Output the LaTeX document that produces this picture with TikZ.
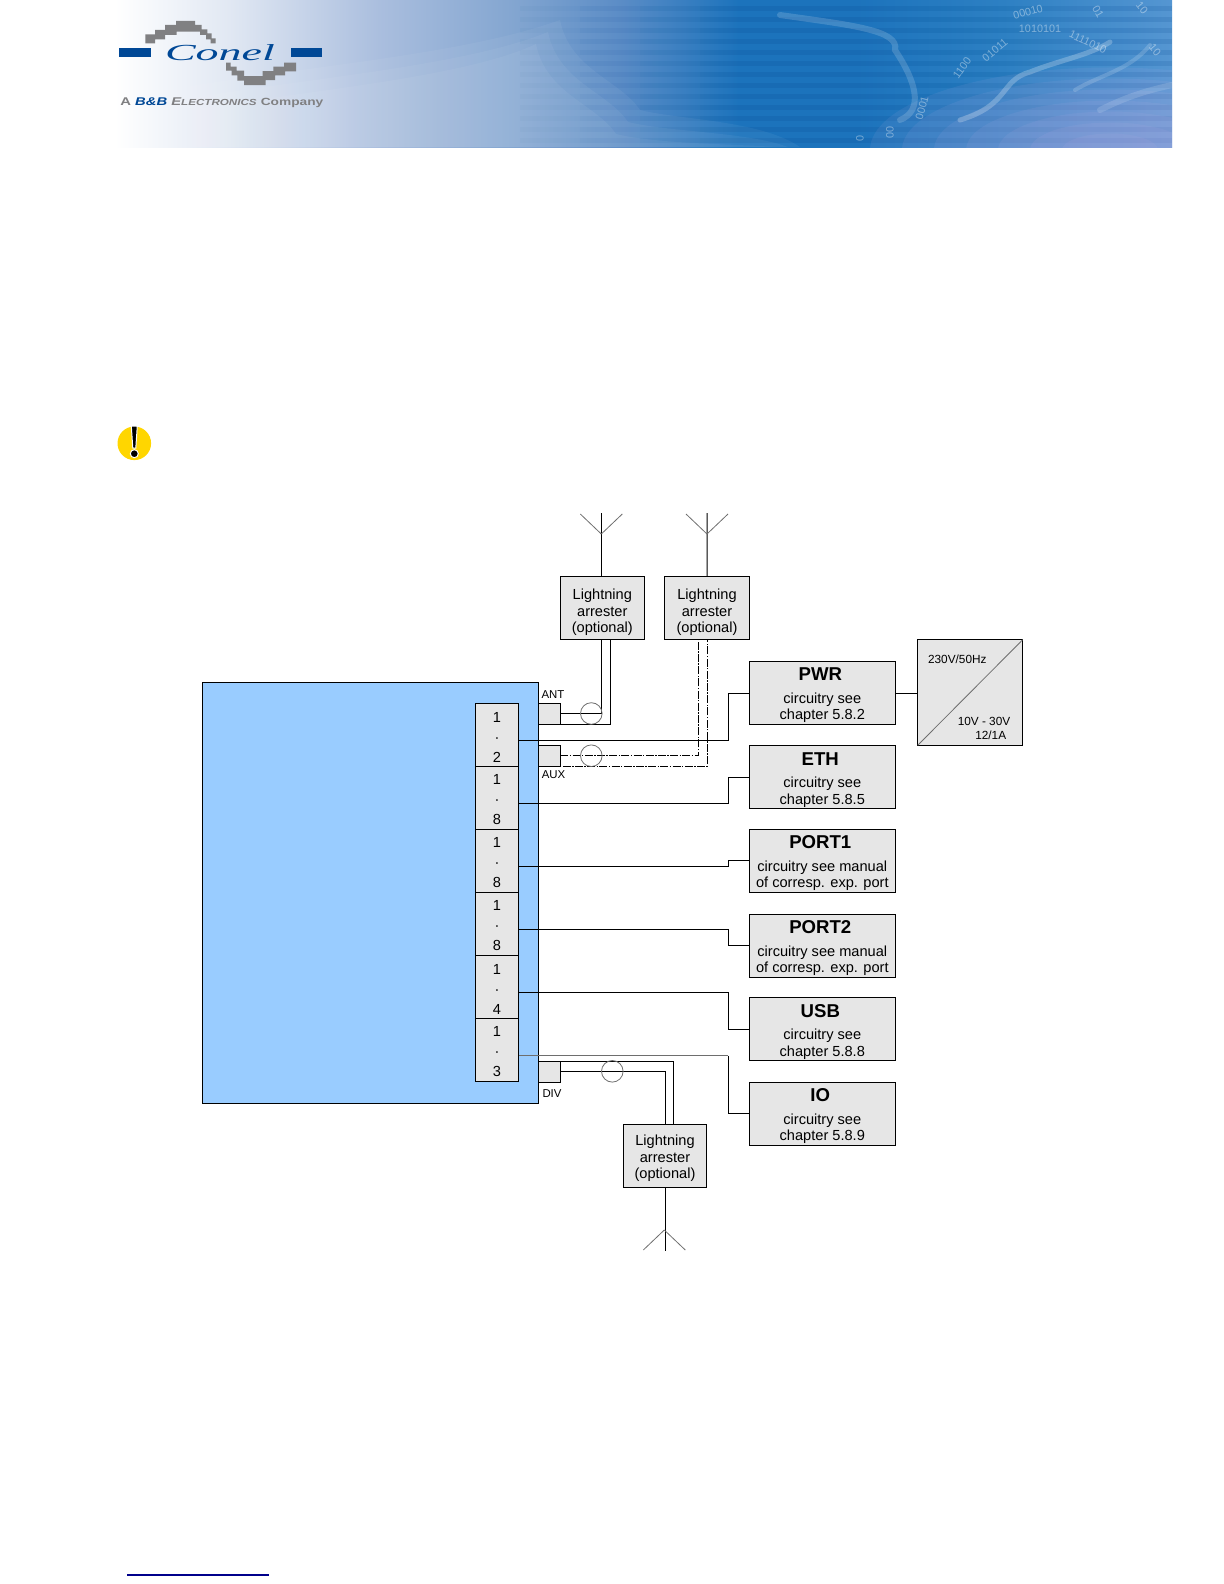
\documentclass[tikz,border=0pt]{standalone}
\usepackage{fontspec}
\setmainfont{Liberation Sans}
\newfontfamily\logofont{Liberation Serif}
\usepackage{xcolor}
\usepackage{tikz}
\usetikzlibrary{shapes,arrows,positioning}
\definecolor{unitblue}{RGB}{153, 204, 255}
\definecolor{boxgray}{RGB}{230, 230, 230}
\definecolor{logoblue}{RGB}{0, 72, 150}
\definecolor{logogray}{RGB}{128, 128, 130}
\definecolor{warnyellow}{RGB}{255, 214, 0}
\definecolor{linkblue}{RGB}{0, 0, 139}
\definecolor{wiregray}{RGB}{110, 110, 110}
\definecolor{bannera}{RGB}{225, 232, 243}
\definecolor{bannerb}{RGB}{170, 190, 222}
\definecolor{bannerc}{RGB}{130, 165, 208}
\definecolor{bannerd}{RGB}{90, 140, 198}
\definecolor{bannere}{RGB}{28, 115, 188}
\definecolor{bannerf}{RGB}{45, 128, 195}
\definecolor{bannerg}{RGB}{85, 150, 210}
\definecolor{bannerline}{RGB}{0, 70, 140}
\pgfdeclarehorizontalshading{bannershade}{100bp}{
  color(0bp)=(white);
  color(25bp)=(white);
  color(30.4bp)=(bannera);
  color(37.5bp)=(bannerb);
  color(44bp)=(bannerc);
  color(49bp)=(bannerd);
  color(54.5bp)=(bannere);
  color(60bp)=(bannere);
  color(67bp)=(bannerf);
  color(75bp)=(bannerg);
  color(100bp)=(bannerg)}
\newcommand{\devtitle}[1]{\hspace*{-2pt}{\fontsize{9.3}{11}\selectfont\bfseries\rule{0pt}{9pt}#1}}
\tikzset{
  textbox/.style={draw, rectangle, fill=boxgray, align=center, inner sep=0pt, outer sep=0pt, line width=0.5pt, font=\fontsize{7.3}{8.3}\selectfont},
  devbox/.style={textbox, minimum width=73pt, minimum height=31.5pt},
  arrbox/.style={textbox, minimum width=42pt, minimum height=31.5pt},
  pinbox/.style={textbox, minimum width=21.7pt, minimum height=31.5pt, font=\fontsize{7.3}{10}\selectfont},
  portbox/.style={textbox, minimum width=11pt, minimum height=10.5pt},
  portlabel/.style={inner sep=0pt, font=\fontsize{5.7}{7}\selectfont},
  supplytext/.style={inner sep=0pt, font=\fontsize{5.9}{7}\selectfont},
  loopmark/.style={draw=wiregray, circle, minimum size=10.8pt, inner sep=0pt, line width=0.4pt},
  wire/.style={line width=0.5pt},
  auxwire/.style={line width=0.5pt, dash pattern=on 4pt off 0.7pt on 0.7pt off 0.7pt},
  aerial/.style={line width=0.4pt, draw=wiregray},
  bits/.style={text=white, opacity=0.4, inner sep=0pt, font=\fontsize{5.4}{6}\selectfont}
}
\begin{document}
\begin{tikzpicture}[x=0.5pt, y=-0.5pt]
        \useasboundingbox (0,0) rectangle (1224,1584);

        % Banner
        \shade[shading=bannershade] (115,0) rectangle (1172,147);
        \begin{scope}
            \clip (115,0) rectangle (1172,147);
            \foreach \xpos in {520,580,640,700}
                \foreach \ypos in {6,17,...,146}
                    \fill[bannerline, opacity=0.03] (\xpos,\ypos) rectangle (1172,\ypos+5);
            \foreach \bump in {0,12,24}
                \fill[white, opacity=0.05] (115,147) -- (115,100+\bump) .. controls (250,70+\bump) and (450,60+\bump) .. (560-\bump,20+\bump) .. controls (570-\bump,70+\bump) and (620-\bump,80+\bump) .. (640-\bump,110+\bump) .. controls (680-\bump,120+\bump) and (760-\bump,120+\bump) .. (800-\bump,147) -- cycle;
            \foreach \rad in {30,50,...,150}
                \fill[red!30!blue!30!white, opacity=0.09] (1110,150) ellipse ({1.6*\rad} and {0.55*\rad});
            \draw[white, opacity=0.16, line width=3pt, line cap=round] (780,15) .. controls (850,25) and (900,30) .. (895,50) .. controls (915,80) and (925,110) .. (900,120);
            \draw[white, opacity=0.24, line width=2.5pt, line cap=round] (960,120) .. controls (1010,105) and (1000,80) .. (1030,72) .. controls (1060,60) and (1090,55) .. (1110,42);
            \draw[white, opacity=0.16, line width=2pt, line cap=round] (1075,90) .. controls (1100,75) and (1130,70) .. (1150,45);
            \draw[white, opacity=0.14, line width=3pt, line cap=round] (1100,110) .. controls (1130,95) and (1150,90) .. (1172,85);
        \end{scope}
        \node[bits, rotate=15] (bits1) at (1028,12) {00010};
        \node[bits] (bits2) at (1040,29) {1010101};
        \node[bits, rotate=-25] (bits3) at (1088,42) {1111010};
        \node[bits, rotate=40] (bits4) at (995,50) {01011};
        \node[bits, rotate=55] (bits5) at (962,68) {1100};
        \node[bits, rotate=75] (bits6) at (922,108) {0001};
        \node[bits, rotate=-50] (bits7) at (1142,8) {10};
        \node[bits, rotate=-60] (bits8) at (1098,12) {01};
        \node[bits, rotate=-50] (bits9) at (1155,50) {10};
        \node[bits, rotate=90] (bits10) at (890,132) {00};
        \node[bits, rotate=90] (bits11) at (860,138) {0};

        % Logo
        \begin{scope}[shift={(100,0)}, x=0.16667pt, y=-0.16667pt]
            \fill[logoblue] (58,143) rectangle (152,171);
            \fill[logoblue] (573,145) rectangle (666,172);
            \fill[logogray] (136,103) -- (165,103) -- (165,90) -- (195,90) -- (195,75) -- (228,75) -- (228,63) -- (285,63) -- (285,75) -- (305,75) -- (305,88) -- (322,88) -- (322,100) -- (335,100) -- (335,115) -- (347,115) -- (347,130) -- (332,130) -- (332,118) -- (318,118) -- (318,105) -- (300,105) -- (300,95) -- (230,95) -- (230,105) -- (195,105) -- (195,118) -- (165,118) -- (165,130) -- (136,130) -- cycle;
            \fill[logogray] (378,188) -- (392,188) -- (392,200) -- (410,200) -- (410,212) -- (432,212) -- (432,228) -- (488,228) -- (488,213) -- (520,213) -- (520,200) -- (552,200) -- (552,188) -- (588,188) -- (588,214) -- (555,214) -- (555,226) -- (525,226) -- (525,240) -- (497,240) -- (497,255) -- (432,255) -- (432,242) -- (412,242) -- (412,226) -- (395,226) -- (395,212) -- (378,212) -- cycle;
        \end{scope}
        \node[inner sep=0pt, text=logoblue, font=\logofont\itshape\fontsize{11.5}{12}\selectfont] (conel) at (220,52.7) {\scalebox{2}[1]{Conel}};
        \node[inner sep=0pt, anchor=west, text=logogray, font=\fontsize{5.6}{7}\selectfont\bfseries] (logoline) at (120,102.5) {\scalebox{1.32}[1]{A \textcolor{logoblue}{\itshape B\&B} {\itshape E\fontsize{4.4}{7}\selectfont LECTRONICS} \fontsize{5.2}{7}\selectfont Company}};

        % Warning mark
        \node[circle, fill=warnyellow, minimum size=16.8pt, inner sep=0pt] (warn) at (134.3,443.3) {};
        \fill[black, draw=white, line width=0.5pt] (131.3,426) -- (137.3,426) -- (135.8,448) -- (132.8,448) -- cycle;
        \fill[black, draw=white, line width=0.5pt] (134.3,453.7) circle (2pt);

        % Unit and its connectors
        \node[draw, rectangle, fill=unitblue, inner sep=0pt, outer sep=0pt, line width=0.5pt, anchor=north west, minimum width=168.2pt, minimum height=210.5pt] (unit) at (202,682.5) {};
        \node[pinbox] (pins1) at (497,734.8) {\rule{0pt}{7.2pt}1\\·\\2};
        \node[pinbox, below=0pt of pins1] (pins2) {\rule{0pt}{7.2pt}1\\·\\8};
        \node[pinbox, below=0pt of pins2] (pins3) {\rule{0pt}{7.2pt}1\\·\\8};
        \node[pinbox, below=0pt of pins3] (pins4) {\rule{0pt}{7.2pt}1\\·\\8};
        \node[pinbox, below=0pt of pins4] (pins5) {\rule{0pt}{7.2pt}1\\·\\4};
        \node[pinbox, below=0pt of pins5] (pins6) {\rule{0pt}{7.2pt}1\\·\\3};

        \node[portbox] (ant) at (549.4,713.8) {};
        \node[portbox] (aux) at (549.4,755.8) {};
        \node[portbox] (div) at (549.4,1071.5) {};
        \node[portlabel] (antlabel) at (553,695) {ANT};
        \node[portlabel] (auxlabel) at (553.5,775) {AUX};
        \node[portlabel] (divlabel) at (552,1094) {DIV};

        % Devices
        \node[devbox] (pwr) at (822.3,693) {\devtitle{PWR}\\[2.9pt]circuitry see\\chapter 5.8.2};
        \node[devbox, below=10.6pt of pwr] (eth) {\devtitle{ETH}\\[2.9pt]circuitry see\\chapter 5.8.5};
        \node[devbox, below=10.3pt of eth] (port1) {\devtitle{PORT1}\\[2.9pt]circuitry see manual\\of corresp. exp. port};
        \node[devbox, below=11pt of port1] (port2) {\devtitle{PORT2}\\[2.9pt]circuitry see manual\\of corresp. exp. port};
        \node[devbox, below=10.2pt of port2] (usb) {\devtitle{USB}\\[2.9pt]circuitry see\\chapter 5.8.8};
        \node[devbox, below=10.8pt of usb] (io) {\devtitle{IO}\\[2.9pt]circuitry see\\chapter 5.8.9};

        % Power supply
        \node[textbox, minimum width=52.5pt, minimum height=52.8pt] (psu) at (970.2,692.5) {};
        \draw[line width=0.4pt, draw=wiregray] (psu.south west) -- (psu.north east);
        \node[supplytext] (psuin) at (957.3,659) {230V/50Hz};
        \node[supplytext] (psuout) at (984,721) {10V - 30V};
        \node[supplytext] (psuamp) at (990.7,735.7) {12/1A};

        % Lightning arresters
        \node[arrbox] (arr1) at (602.3,607.8) {\rule{0pt}{10pt}Lightning\\arrester\\(optional)};
        \node[arrbox, right=10pt of arr1, minimum width=42.7pt] (arr2) {\rule{0pt}{10pt}Lightning\\arrester\\(optional)};
        \node[arrbox, minimum width=41.7pt] (arr3) at (665,1155.8) {\rule{0pt}{8pt}Lightning\\arrester\\(optional)};

        % Aerials
        \coordinate (fork1) at (601.3,534);
        \coordinate (fork2) at (707,534);
        \coordinate (fork3) at (664.3,1230);
        \coordinate (top1) at (601.3,513);
        \coordinate (top2) at (707,513);
        \coordinate (end3) at (664.3,1250.7);
        \draw[wire] ([xshift=-0.5pt]arr1.north) -- (top1);
        \draw[wire] (arr2.north) -- (top2);
        \draw[wire] (arr3.south) -- (arr3.south |- end3);
        \draw[aerial] (fork1) -- ++(-21,-20);
        \draw[aerial] (fork1) -- ++(21,-20);
        \draw[aerial] (fork2) -- ++(-21,-20);
        \draw[aerial] (fork2) -- ++(21,-20);
        \draw[aerial] (fork3) -- ++(-21,20);
        \draw[aerial] (fork3) -- ++(21,20);

        % Aerial feeds
        \draw[wire] (ant.east) -| ([xshift=-0.5pt]arr1.south);
        \draw[wire] (ant.south west) -| ([xshift=4pt]arr1.south);
        \draw[auxwire] (aux.east) -| ([xshift=-4.3pt]arr2.south);
        \draw[auxwire] (aux.south west) -| (arr2.south);
        \draw[wire] (div.east) -| (arr3.north);
        \draw[wire] (div.north west) -| ([xshift=4.4pt]arr3.north);
        \node[loopmark] (loop1) at (591.3,713.5) {};
        \node[loopmark] (loop2) at (591.3,755.7) {};
        \node[loopmark] (loop3) at (612.3,1071.3) {};

        % Device wiring
        \coordinate (bus) at (728.3,700);
        \draw[wire] ([yshift=-3pt]pins1.east) -- ([yshift=-3pt]pins1.east -| bus) |- (pwr.west);
        \draw[wire] ([yshift=-3pt]pins2.east) -- ([yshift=-3pt]pins2.east -| bus) |- (eth.west);
        \draw[wire] ([yshift=-3pt]pins3.east) -- ([yshift=-3pt]pins3.east -| bus) |- (port1.west);
        \draw[wire] ([yshift=-3pt]pins4.east) -- ([yshift=-3pt]pins4.east -| bus) |- (port2.west);
        \draw[wire] ([yshift=-3pt]pins5.east) -- ([yshift=-3pt]pins5.east -| bus) |- (usb.west);
        \draw[wire, draw=wiregray] ([yshift=-3pt]pins6.east) -- ([yshift=-3pt]pins6.east -| bus);
        \draw[wire] ([yshift=-3pt]pins6.east -| bus) |- (io.west);
        \draw[wire] (pwr.east) -- (psu.west |- pwr.east);

        % Link underline
        \draw[linkblue, line width=0.7pt] (127,1575) -- (269,1575);
    \end{tikzpicture}
\end{document}
